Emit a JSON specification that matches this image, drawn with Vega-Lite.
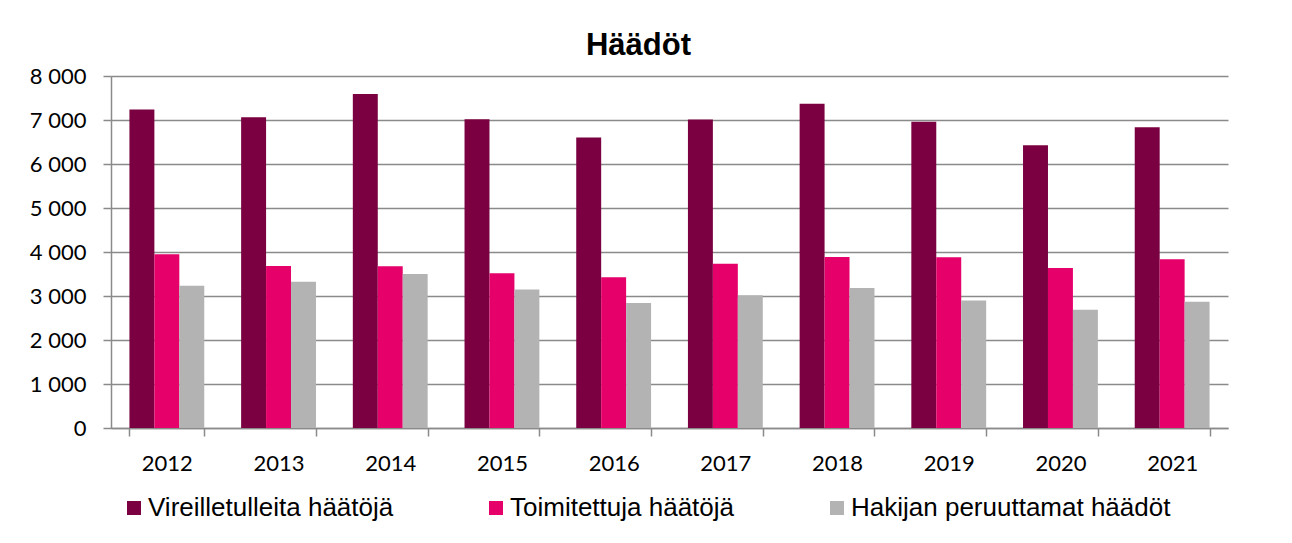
{
  "$schema": "https://vega.github.io/schema/vega-lite/v6.json",
  "width": 1117,
  "height": 352,
  "autosize": {"type": "none"},
  "padding": {"left": 111, "top": 76, "right": 64, "bottom": 115},
  "background": "white",
  "title": {
    "text": "Häädöt",
    "font": "Liberation Sans",
    "fontSize": 31,
    "fontWeight": "bold",
    "color": "#000000",
    "anchor": "middle",
    "frame": "group",
    "dx": -31,
    "dy": 31,
    "baseline": "alphabetic",
    "offset": 10
  },
  "data": {
    "values": [
      {"year": "2012", "series": "Vireilletulleita häätöjä", "value": 7240},
      {"year": "2012", "series": "Toimitettuja häätöjä", "value": 3950},
      {"year": "2012", "series": "Hakijan peruuttamat häädöt", "value": 3235},
      {"year": "2013", "series": "Vireilletulleita häätöjä", "value": 7060},
      {"year": "2013", "series": "Toimitettuja häätöjä", "value": 3680},
      {"year": "2013", "series": "Hakijan peruuttamat häädöt", "value": 3325},
      {"year": "2014", "series": "Vireilletulleita häätöjä", "value": 7590},
      {"year": "2014", "series": "Toimitettuja häätöjä", "value": 3675},
      {"year": "2014", "series": "Hakijan peruuttamat häädöt", "value": 3500},
      {"year": "2015", "series": "Vireilletulleita häätöjä", "value": 7015},
      {"year": "2015", "series": "Toimitettuja häätöjä", "value": 3515},
      {"year": "2015", "series": "Hakijan peruuttamat häädöt", "value": 3150},
      {"year": "2016", "series": "Vireilletulleita häätöjä", "value": 6600},
      {"year": "2016", "series": "Toimitettuja häätöjä", "value": 3425},
      {"year": "2016", "series": "Hakijan peruuttamat häädöt", "value": 2840},
      {"year": "2017", "series": "Vireilletulleita häätöjä", "value": 7010},
      {"year": "2017", "series": "Toimitettuja häätöjä", "value": 3735},
      {"year": "2017", "series": "Hakijan peruuttamat häädöt", "value": 3015},
      {"year": "2018", "series": "Vireilletulleita häätöjä", "value": 7370},
      {"year": "2018", "series": "Toimitettuja häätöjä", "value": 3885},
      {"year": "2018", "series": "Hakijan peruuttamat häädöt", "value": 3180},
      {"year": "2019", "series": "Vireilletulleita häätöjä", "value": 6960},
      {"year": "2019", "series": "Toimitettuja häätöjä", "value": 3880},
      {"year": "2019", "series": "Hakijan peruuttamat häädöt", "value": 2895},
      {"year": "2020", "series": "Vireilletulleita häätöjä", "value": 6425},
      {"year": "2020", "series": "Toimitettuja häätöjä", "value": 3635},
      {"year": "2020", "series": "Hakijan peruuttamat häädöt", "value": 2690},
      {"year": "2021", "series": "Vireilletulleita häätöjä", "value": 6835},
      {"year": "2021", "series": "Toimitettuja häätöjä", "value": 3835},
      {"year": "2021", "series": "Hakijan peruuttamat häädöt", "value": 2870}
    ]
  },
  "mark": {"type": "bar"},
  "encoding": {
    "x": {
      "field": "year",
      "type": "nominal",
      "scale": {"paddingInner": 0.33, "paddingOuter": 0.165},
      "axis": {
        "title": null,
        "labelAngle": 0,
        "labelFont": "Lato",
        "labelFontSize": 22,
        "labelColor": "#000000",
        "labelPadding": 17,
        "domainColor": "#8a8a8a",
        "domainWidth": 1.5,
        "tickColor": "#8a8a8a",
        "tickWidth": 1.5,
        "tickSize": 8,
        "tickBand": "extent",
        "grid": false
      }
    },
    "xOffset": {
      "field": "series",
      "type": "nominal",
      "sort": ["Vireilletulleita häätöjä", "Toimitettuja häätöjä", "Hakijan peruuttamat häädöt"],
      "scale": {"paddingInner": 0, "paddingOuter": 0}
    },
    "y": {
      "field": "value",
      "type": "quantitative",
      "scale": {"domain": [0, 8000], "nice": false},
      "axis": {
        "title": null,
        "values": [0, 1000, 2000, 3000, 4000, 5000, 6000, 7000, 8000],
        "labelExpr": "replace(format(datum.value, ','), ',', ' ')",
        "labelFont": "Lato",
        "labelFontSize": 22,
        "labelColor": "#000000",
        "labelPadding": 17,
        "domainColor": "#8a8a8a",
        "domainWidth": 1.5,
        "tickColor": "#8a8a8a",
        "tickWidth": 1.5,
        "tickSize": 8,
        "grid": true,
        "gridColor": "#8a8a8a",
        "gridWidth": 1.5
      }
    },
    "color": {
      "field": "series",
      "type": "nominal",
      "scale": {
        "domain": ["Vireilletulleita häätöjä", "Toimitettuja häätöjä", "Hakijan peruuttamat häädöt"],
        "range": ["#7a0041", "#e5006a", "#b3b3b3"]
      },
      "legend": {
        "title": null,
        "orient": "none",
        "direction": "horizontal",
        "legendX": 10,
        "legendY": 419,
        "padding": 0,
        "symbolType": "square",
        "symbolSize": 196,
        "symbolStrokeWidth": 0,
        "symbolOpacity": 1,
        "labelFont": "Liberation Sans",
        "labelFontSize": 26,
        "labelColor": "#000000",
        "labelOffset": 1,
        "columnPadding": 89,
        "labelLimit": 500
      }
    }
  },
  "config": {
    "view": {"stroke": null}
  }
}
